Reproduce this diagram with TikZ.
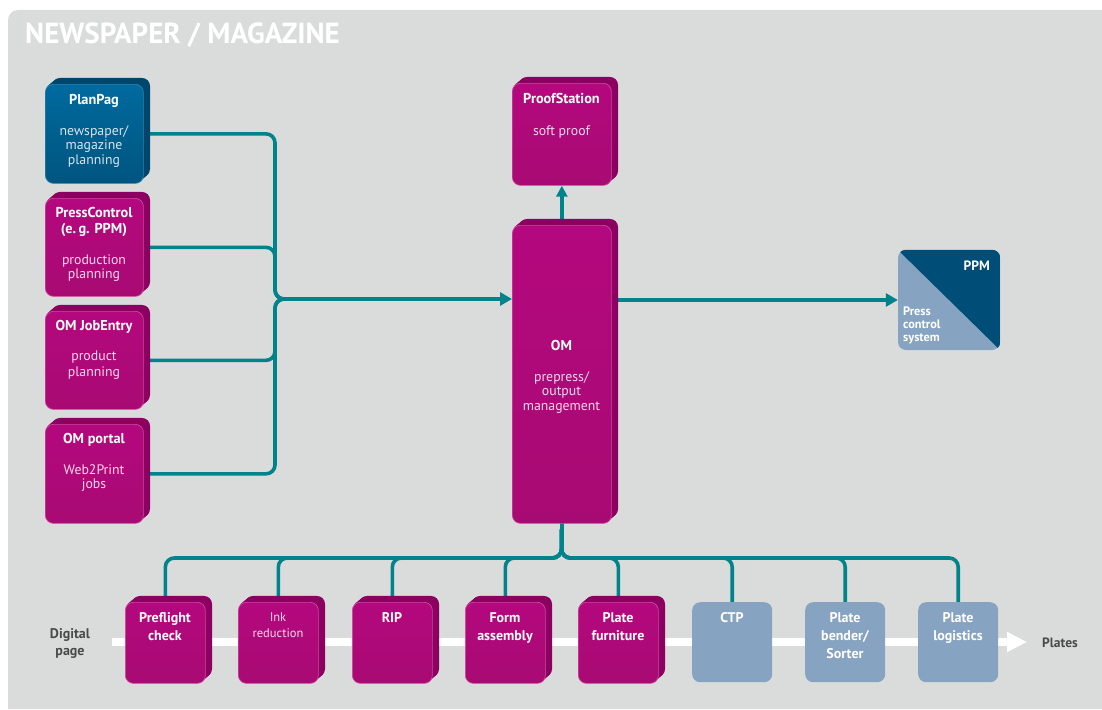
\documentclass[tikz,border=0pt]{standalone}
\usepackage{fontspec}
\setmainfont{PT Sans}
\usetikzlibrary{arrows.meta}
\definecolor{bgc}{HTML}{DADCDB}
\definecolor{mag}{HTML}{B4087E}
\definecolor{magb}{HTML}{A80A73}
\definecolor{magd}{HTML}{8C0061}
\definecolor{mage}{HTML}{CF4A9F}
\definecolor{blu}{HTML}{006A9E}
\definecolor{blub}{HTML}{00557F}
\definecolor{blud}{HTML}{00466C}
\definecolor{blue2}{HTML}{2B84B4}
\definecolor{lblue}{HTML}{87A3C2}
\definecolor{dblue}{HTML}{004E78}
\definecolor{tealc}{HTML}{00838A}
\definecolor{graytxt}{HTML}{4A4A4A}
\definecolor{subm}{HTML}{F6D8EA}
\definecolor{subb}{HTML}{D6E4F0}
\pgfdeclarelayer{bglayer}
\pgfdeclarelayer{connlayer}
\pgfsetlayers{bglayer,connlayer,main}
\tikzset{
 face/.style={rounded corners=8pt, inner sep=0pt, line width=0.7pt},
 flat/.style={rounded corners=8pt, inner sep=0pt, fill=lblue, minimum width=80pt, minimum height=80pt, anchor=north west},
 conn/.style={draw=tealc, line width=3.6pt, rounded corners=9pt},
 tip/.style={-{Triangle[length=12pt,width=13pt]}},
 ttl/.style={text=white, font=\bfseries\fontsize{14.3}{16}\selectfont, inner sep=0pt, anchor=base},
 btl/.style={text=white, font=\bfseries\fontsize{14}{17}\selectfont, inner sep=0pt, anchor=base},
 sub/.style={text=subm, font=\fontsize{13.8}{15}\selectfont, inner sep=0pt, anchor=base},
 ppmt/.style={text=white, font=\bfseries\fontsize{12.3}{13}\selectfont, inner sep=0pt, anchor=base west},
 gtxt/.style={text=graytxt, font=\bfseries\fontsize{14}{17}\selectfont, inner sep=0pt, anchor=base},
}
\newcommand\extbox[9]{%
 \foreach \k in {7,6,5,4,3,2,1}{\fill[#8, rounded corners=8pt] ({#2+\k},{#3-0.86*\k}) rectangle ++(#4,#5);}
 \node[face, draw=#9, top color=#6, bottom color=#7, minimum width=#4pt, minimum height=#5pt, anchor=north west] (#1) at (#2,#3) {};
}
\begin{document}
\begin{tikzpicture}[x=1pt,y=-1pt]
\begin{pgfonlayer}{bglayer}
\fill[white] (0,0) rectangle (1102,709);
\useasboundingbox (0,0) rectangle (1102,709);
\fill[bgc] (8,709) [rounded corners=10pt] -- (8,10) [sharp corners] -- (1102,10) -- (1102,709) -- cycle;
\end{pgfonlayer}
\node[text=white, font=\bfseries\fontsize{29}{32}\selectfont, anchor=base west, inner sep=0pt] (title) at (25,44) {NEWSPAPER / MAGAZINE};

% left column
\extbox{planpag}{45}{84}{98}{99}{blu}{blub}{blud}{blue2}
\extbox{pressctl}{45}{198}{98}{98}{mag}{magb}{magd}{mage}
\extbox{jobentry}{45}{311}{98}{98}{mag}{magb}{magd}{mage}
\extbox{portal}{45}{424}{98}{99}{mag}{magb}{magd}{mage}
% centre
\extbox{proof}{512}{83}{99}{102}{mag}{magb}{magd}{mage}
\extbox{om}{512}{225}{99}{298}{mag}{magb}{magd}{mage}
% bottom row
\extbox{pre}{125}{602}{80}{81}{mag}{magb}{magd}{mage}
\extbox{ink}{238}{602}{80}{81}{mag}{magb}{magd}{mage}
\extbox{rip}{352}{602}{80}{81}{mag}{magb}{magd}{mage}
\extbox{form}{465}{602}{80}{81}{mag}{magb}{magd}{mage}
\extbox{furn}{578}{602}{80}{81}{mag}{magb}{magd}{mage}
\node[flat] (ctp) at (692,602) {};
\node[flat] (bender) at (805,602) {};
\node[flat] (logi) at (918,602) {};
% PPM
\node[fill=lblue, rounded corners=8pt, minimum width=102pt, minimum height=100pt, inner sep=0pt] (ppm) at (949,300) {};
\begin{scope}
\clip[rounded corners=8pt] (ppm.north west) rectangle (ppm.south east);
\fill[dblue] (ppm.north west) -- (ppm.north east) -- (ppm.south east) -- cycle;
\end{scope}

% texts
\node[ttl] (t1) at (94,104) {PlanPag};
\node[sub, text=subb] (s1a) at (94,135) {newspaper/};
\node[sub, text=subb] (s1b) at (94,149.5) {magazine};
\node[sub, text=subb] (s1c) at (94,164) {planning};
\node[ttl] (t2a) at (94,217) {PressControl};
\node[ttl] (t2b) at (94,233) {(e.\,g. PPM)};
\node[sub] (s2a) at (94,264) {production};
\node[sub] (s2b) at (94,278.5) {planning};
\node[ttl] (t3) at (94,330) {OM JobEntry};
\node[sub] (s3a) at (94,360) {product};
\node[sub] (s3b) at (94,376) {planning};
\node[ttl] (t4) at (94,443) {OM portal};
\node[sub] (s4a) at (94,474) {Web2Print};
\node[sub] (s4b) at (94,488.5) {jobs};
\node[ttl] (t5) at (561.5,103) {ProofStation};
\node[sub] (s5) at (561.5,135) {soft proof};
\node[ttl] (t6) at (561.5,350) {OM};
\node[sub] (s6a) at (561.5,381) {prepress/};
\node[sub] (s6b) at (561.5,395.5) {output};
\node[sub] (s6c) at (561.5,410) {management};
\node[btl] (b1a) at (165,622) {Preflight};
\node[btl] (b1b) at (165,640) {check};
\node[sub, font=\fontsize{12.5}{15}\selectfont] (b2a) at (278,621) {Ink};
\node[sub, font=\fontsize{12.5}{15}\selectfont] (b2b) at (278,637) {reduction};
\node[btl] (b3) at (392,622) {RIP};
\node[btl] (b4a) at (505,622) {Form};
\node[btl] (b4b) at (505,640) {assembly};
\node[btl] (b5a) at (618,622) {Plate};
\node[btl] (b5b) at (618,640) {furniture};
\node[btl] (b6) at (732,622) {CTP};
\node[btl] (b7a) at (845,622) {Plate};
\node[btl] (b7b) at (845,640) {bender/};
\node[btl] (b7c) at (845,658) {Sorter};
\node[btl] (b8a) at (958,622) {Plate};
\node[btl] (b8b) at (958,640) {logistics};
\node[text=white, font=\bfseries\fontsize{13.5}{16}\selectfont, inner sep=0pt, anchor=base east] (ppmt) at (990,270) {PPM};
\node[ppmt] (p1) at (903,315) {Press};
\node[ppmt] (p2) at (903,328) {control};
\node[ppmt] (p3) at (903,341) {system};
\node[gtxt] (dg1) at (70,638) {Digital};
\node[gtxt] (dg2) at (70,655) {page};
\node[gtxt, font=\bfseries\fontsize{13.5}{16}\selectfont] (plates) at (1060,647) {Plates};

% connectors
\begin{pgfonlayer}{connlayer}
\coordinate (pipestart) at (112,642);
\coordinate (pipeend) at (1027,642);
\draw[white, line width=8pt, -{Triangle[length=20pt,width=19pt]}] (pipestart) -- (pipeend);
\coordinate (lbus) at (275,299);
\coordinate (hub) at (330,299);
\draw[conn] (planpag.east) -| (lbus) -- (hub);
\draw[conn] (pressctl.east) -| (lbus) -- (hub);
\draw[conn] (jobentry.east) -| (lbus) -- (hub);
\draw[conn] (portal.east) -| (lbus) -- (hub);
\draw[conn, tip] (hub) -- (om.west |- hub);
\draw[conn, tip] (om.east |- ppm.west) -- (ppm.west);
\draw[conn, -{Triangle[length=11pt,width=11pt]}] (om.north) -- (proof.south);
\coordinate (bus) at (561.5,558);
\foreach \b in {pre,ink,rip,form,furn,ctp,bender,logi}{
  \draw[conn] (om.south) -- (bus) -| (\b.north);
}
\end{pgfonlayer}
\end{tikzpicture}
\end{document}
